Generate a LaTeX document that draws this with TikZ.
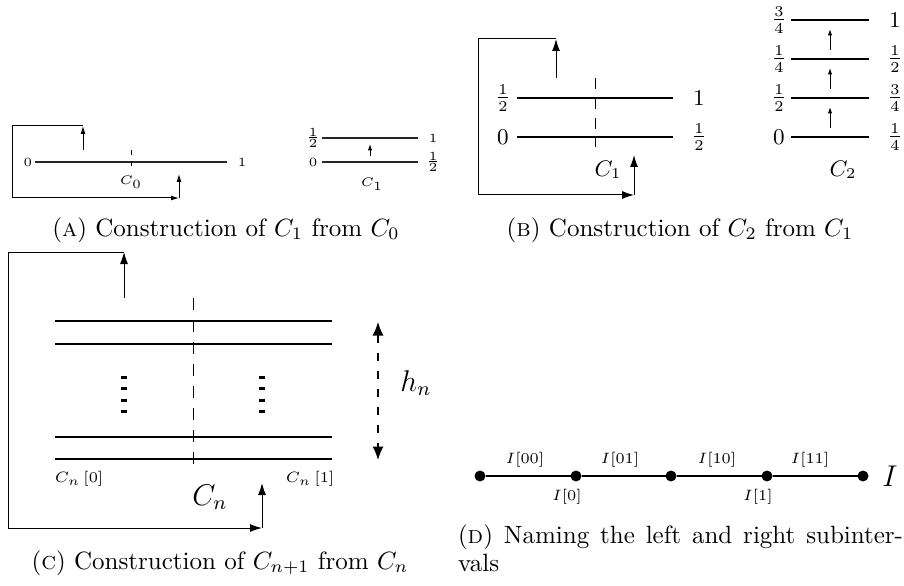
\documentclass[tikz,border=0pt]{standalone}
\usetikzlibrary{arrows.meta}
\begin{document}
\begin{tikzpicture}[x=0.4pt,y=-0.4pt,
  every node/.style={inner sep=0pt, outer sep=0pt},
  capt/.style={font=\fontsize{10}{12}\selectfont, anchor=base},
  lblA/.style={font=\fontsize{5.5}{6.5}\selectfont},
  lblB/.style={font=\fontsize{9}{11}\selectfont},
  lblCbig/.style={font=\fontsize{12}{14}\selectfont},
  lblCsmall/.style={font=\fontsize{6}{7}\selectfont},
  lblDsmall/.style={font=\fontsize{6.5}{7.5}\selectfont},
  lblDbig/.style={font=\fontsize{13}{15}\selectfont},
  segA/.style={line width=0.5pt, black!85},
  segB/.style={line width=1.1pt},
  segD/.style={line width=0.8pt},
  loopln/.style={line width=0.4pt},
  tipA/.style={-{Latex[length=3.2pt,width=2pt]}},
  tipS/.style={-{Latex[length=2.6pt,width=1.8pt]}},
  tipB/.style={-{Latex[length=4.8pt,width=3.2pt]}},
  cutA/.style={line width=0.4pt, dash pattern=on 2pt off 2.4pt},
  cutB/.style={line width=0.4pt, dash pattern=on 4.4pt off 3.6pt},
  cutC/.style={line width=0.4pt, dash pattern=on 4.8pt off 4pt},
  vdots/.style={line width=2.4pt, dash pattern=on 1.2pt off 3.4pt},
  hgt/.style={line width=0.5pt, dash pattern=on 3.2pt off 4pt,
    {Latex[length=5.4pt,width=4.4pt]}-{Latex[length=5.4pt,width=4.4pt]}},
  dot/.style={circle, fill, minimum size=4.4pt},
]
\useasboundingbox (0,0) rectangle (904,585);

% ---------- Panel A (C0) ----------
\coordinate (aL) at (35,162); \coordinate (aR) at (227,162);
\draw[segA] (aL) -- (aR);
\node[lblA] (a0) at (28,162) {$0$};
\node[lblA] (a1) at (242,162) {$1$};
\coordinate (aCt) at (131,150); \coordinate (aCb) at (131,167);
\draw[cutA] (aCt) -- (aCb);
\node[lblA] (aC) at (131,182) {$C_0$};
\coordinate (aUpS) at (83,150); \coordinate (aUpE) at (83,126);
\coordinate (aTL) at (12,126); \coordinate (aBL) at (12,198);
\coordinate (aBR) at (179,198); \coordinate (aUp2) at (179,174);
\draw[loopln, tipA] (aUpS) -- (aUpE);
\draw[loopln, tipA] (aUpE) -- (aTL) -- (aBL) -- (aBR);
\draw[loopln, tipA] (aBR) -- (aUp2);

% ---------- Panel A (C1) ----------
\coordinate (a2TL) at (322,138); \coordinate (a2TR) at (418,138);
\coordinate (a2BL) at (322,162); \coordinate (a2BR) at (418,162);
\draw[segA] (a2TL) -- (a2TR);
\draw[segA] (a2BL) -- (a2BR);
\node[lblA] (a2l1) at (313,138) {$\frac{1}{2}$};
\node[lblA] (a2l0) at (313,162) {$0$};
\node[lblA] (a2r1) at (433,138) {$1$};
\node[lblA] (a2r0) at (433,162) {$\frac{1}{2}$};
\coordinate (a2As) at (370,156); \coordinate (a2Ae) at (370,144);
\draw[loopln, tipS] (a2As) -- (a2Ae);
\node[lblA] (a2C) at (372,184) {$C_1$};

\node[capt] (capA) at (226,236) {(\textsc{a}) Construction of $C_1$ from $C_0$};

% ---------- Panel B (C1) ----------
\coordinate (bTL) at (517,98); \coordinate (bTR) at (673,98);
\coordinate (bBL) at (517,137); \coordinate (bBR) at (673,137);
\draw[segB] (bTL) -- (bTR);
\draw[segB] (bBL) -- (bBR);
\coordinate (bCt) at (595,78); \coordinate (bCb) at (595,147);
\draw[cutB] (bCt) -- (bCb);
\node[lblB] (bl1) at (503,98) {$\frac{1}{2}$};
\node[lblB] (bl0) at (503,137) {$0$};
\node[lblB] (br1) at (699,98) {$1$};
\node[lblB] (br0) at (699,137) {$\frac{1}{2}$};
\node[lblB] (bC) at (608,170) {$C_1$};
\coordinate (bUpS) at (556,78); \coordinate (bUpE) at (556,39);
\coordinate (bLT) at (478,39); \coordinate (bLB) at (478,195);
\coordinate (bBRc) at (634,195); \coordinate (bUp2) at (634,155);
\draw[loopln, tipB] (bUpS) -- (bUpE);
\draw[loopln, tipB] (bUpE) -- (bLT) -- (bLB) -- (bBRc);
\draw[loopln, tipB] (bBRc) -- (bUp2);

% ---------- Panel B (C2) ----------
\foreach \yy/\ll/\rr [count=\k] in {20/{\frac{3}{4}}/1, 59/{\frac{1}{4}}/{\frac{1}{2}}, 98/{\frac{1}{2}}/{\frac{3}{4}}, 137/0/{\frac{1}{4}}} {
  \coordinate (cL\k) at (791,\yy); \coordinate (cR\k) at (869,\yy);
  \draw[segB] (cL\k) -- (cR\k);
  \node[lblB] (cl\k) at (779,\yy) {$\ll$};
  \node[lblB] (cr\k) at (895,\yy) {$\rr$};
}
\foreach \ys/\ye [count=\k] in {50/29, 89/68, 128/107} {
  \coordinate (cAs\k) at (830,\ys); \coordinate (cAe\k) at (830,\ye);
  \draw[loopln, tipS] (cAs\k) -- (cAe\k);
}
\node[lblB] (cC) at (843,170) {$C_2$};

\node[capt] (capB) at (680,236) {(\textsc{b}) Construction of $C_2$ from $C_1$};

% ---------- Panel C ----------
\foreach \yy [count=\k] in {321,344,437,459} {
  \coordinate (nL\k) at (55,\yy); \coordinate (nR\k) at (332,\yy);
  \draw[segB] (nL\k) -- (nR\k);
}
\coordinate (nCt) at (193,298); \coordinate (nCb) at (193,470);
\draw[cutC] (nCt) -- (nCb);
\coordinate (nD1t) at (124,375.5); \coordinate (nD1b) at (124,414);
\coordinate (nD2t) at (262,375.5); \coordinate (nD2b) at (262,414);
\draw[vdots] (nD1t) -- (nD1b);
\draw[vdots] (nD2t) -- (nD2b);
\coordinate (nHt) at (378,322); \coordinate (nHb) at (378,460);
\draw[hgt] (nHt) -- (nHb);
\node[lblCbig] (nh) at (416,383) {$h_n$};
\node[lblCbig] (nC) at (210,497) {$C_n$};
\node[lblCsmall] (n0) at (79,479) {$C_n\,[0]$};
\node[lblCsmall] (n1) at (310,479) {$C_n\,[1]$};
\coordinate (nUpS) at (124,298); \coordinate (nUpE) at (124,252);
\coordinate (nLT) at (8,252); \coordinate (nLB) at (8,528);
\coordinate (nBR) at (262,528); \coordinate (nUp2) at (262,483);
\draw[loopln, tipB] (nUpS) -- (nUpE);
\draw[loopln, tipB] (nUpE) -- (nLT) -- (nLB) -- (nBR);
\draw[loopln, tipB] (nBR) -- (nUp2);

\node[capt] (capC) at (220,569) {(\textsc{c}) Construction of $C_{n+1}$ from $C_n$};

% ---------- Panel D ----------
\node[dot] (d1) at (480,476) {};
\node[dot] (d2) at (576,476) {};
\node[dot] (d3) at (671,476) {};
\node[dot] (d4) at (767,476) {};
\node[dot] (d5) at (863,476) {};
\draw[segD] (d1) -- (d2) -- (d3) -- (d4) -- (d5);
\node[lblDsmall] (i00) at (525,460) {$I[00]$};
\node[lblDsmall] (i01) at (620,460) {$I[01]$};
\node[lblDsmall] (i10) at (717,460) {$I[10]$};
\node[lblDsmall] (i11) at (810,460) {$I[11]$};
\node[lblDsmall] (i0) at (567,497) {$I[0]$};
\node[lblDsmall] (i1) at (758,497) {$I[1]$};
\node[lblDbig] (iI) at (890,476) {$I$};

\node[capt, anchor=north west, text width=178pt, align=justify,
  font=\fontsize{10}{11.2}\selectfont] (capD) at (458,524.5)
  {(\textsc{d}) Naming the left and right subinter-\linebreak vals};
\end{tikzpicture}
\end{document}
